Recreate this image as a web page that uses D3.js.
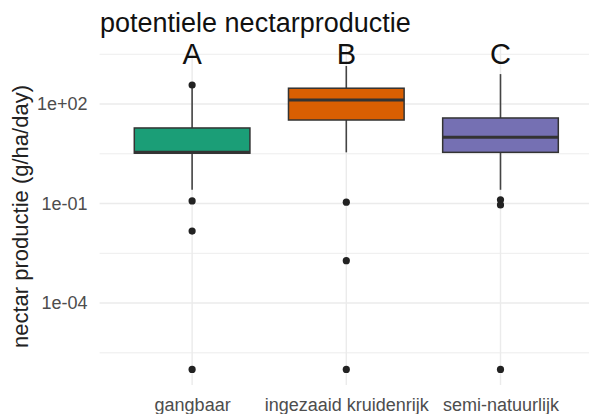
<!DOCTYPE html>
<html><head><meta charset="utf-8">
<script src="https://cdn.jsdelivr.net/npm/d3@7"></script>
<style>
html,body{margin:0;padding:0;background:#fff;}
text{font-family:"Liberation Sans",Arial,sans-serif;}
</style></head>
<body><svg id="c" width="589" height="414"></svg>
<script>
const categories = ["gangbaar","ingezaaid kruidenrijk","semi-natuurlijk"];
const letters = ["A","B","C"];
const colors = ["#1b9e77","#d95f02","#7570b3"];
const whiskerLow = [0.26, 3.5, 0.26];
const q1 = [3.3, 33, 3.5];
const median = [3.5, 132, 10];
const q3 = [19, 300, 38];
const whiskerHigh = [300, 1400, 800];
const outliers = [[372, 0.12, 0.0148, 1e-6],[0.11, 0.0019, 1e-6],[0.13, 0.091, 1e-6]];
const majorTicks = [1e-4, 1e-1, 1e2];
const majorLabels = ["1e-04","1e-01","1e+02"];
const minorTicks = [Math.pow(10,-5.5), Math.pow(10,-2.5), Math.pow(10,0.5), Math.pow(10,3.5)];
const letterValue = Math.pow(10,3.5);

const svg = d3.select("#c");
const L = 99.6, R = 593, T = 45, B = 385;
const x = d3.scalePoint().domain(categories).range([L,R]).padding(0.6);
const y = d3.scaleLog().domain([Math.pow(10,-6.47), Math.pow(10,3.78)]).range([B,T]);
const bw = x.step()*0.75;

const grid = svg.append("g");
grid.selectAll(".mn").data(minorTicks).join("line")
  .attr("x1",L).attr("x2",R).attr("y1",d=>y(d)).attr("y2",d=>y(d))
  .attr("stroke","#ededed").attr("stroke-width",1);
grid.selectAll(".mj").data(majorTicks).join("line")
  .attr("x1",L).attr("x2",R).attr("y1",d=>y(d)).attr("y2",d=>y(d))
  .attr("stroke","#ebebeb").attr("stroke-width",1.4);
grid.selectAll(".vx").data(categories).join("line")
  .attr("x1",d=>x(d)).attr("x2",d=>x(d)).attr("y1",T).attr("y2",B)
  .attr("stroke","#ebebeb").attr("stroke-width",1.4);

// axes
const ya = svg.append("g").attr("transform",`translate(${L},0)`)
  .call(d3.axisLeft(y).tickValues(majorTicks).tickFormat((d,i)=>majorLabels[i]).tickSize(0).tickPadding(12));
ya.select(".domain").remove();
ya.selectAll("text").attr("font-size",18).attr("fill","#4d4d4d").attr("font-family","Liberation Sans, Arial, sans-serif");

const xa = svg.append("g").attr("transform",`translate(0,${B})`)
  .call(d3.axisBottom(x).tickSize(0).tickPadding(13));
xa.select(".domain").remove();
xa.selectAll("text").attr("font-size",18).attr("fill","#4d4d4d").attr("font-family","Liberation Sans, Arial, sans-serif");

// boxes
const idx = categories.map((c,i)=>i);
const g = svg.append("g");
g.selectAll(".wh").data(idx).join("line")
  .attr("x1",i=>x(categories[i])).attr("x2",i=>x(categories[i]))
  .attr("y1",i=>y(whiskerHigh[i])).attr("y2",i=>y(q3[i]))
  .attr("stroke","#444").attr("stroke-width",1.6);
g.selectAll(".wl").data(idx).join("line")
  .attr("x1",i=>x(categories[i])).attr("x2",i=>x(categories[i]))
  .attr("y1",i=>y(q1[i])).attr("y2",i=>y(whiskerLow[i]))
  .attr("stroke","#444").attr("stroke-width",1.6);
g.selectAll(".bx").data(idx).join("rect")
  .attr("x",i=>x(categories[i])-bw/2).attr("width",bw)
  .attr("y",i=>y(q3[i])).attr("height",i=>y(q1[i])-y(q3[i]))
  .attr("fill",i=>colors[i]).attr("stroke","#333").attr("stroke-width",1.5);
g.selectAll(".md").data(idx).join("line")
  .attr("x1",i=>x(categories[i])-bw/2).attr("x2",i=>x(categories[i])+bw/2)
  .attr("y1",i=>y(median[i])).attr("y2",i=>y(median[i]))
  .attr("stroke","#333").attr("stroke-width",3);
const pts = [];
outliers.forEach((arr,i)=>arr.forEach(v=>pts.push({c:categories[i],v})));
g.selectAll(".pt").data(pts).join("circle")
  .attr("cx",d=>x(d.c)).attr("cy",d=>y(d.v)).attr("r",3.6).attr("fill","#222");

// letters
svg.append("g").selectAll("text").data(idx).join("text")
  .attr("x",i=>x(categories[i])).attr("y",i=>y(letterValue)+10)
  .attr("text-anchor","middle").attr("font-size",29).attr("fill","#111")
  .text(i=>letters[i]);

// titles
svg.append("text").attr("x",100).attr("y",32).attr("font-size",27).attr("fill","#111")
  .text("potentiele nectarproductie");
svg.append("text").attr("transform",`translate(28,${(85+348)/2}) rotate(-90)`)
  .attr("text-anchor","middle").attr("font-size",22).attr("fill","#222")
  .text("nectar productie (g/ha/day)");
</script></body></html>
